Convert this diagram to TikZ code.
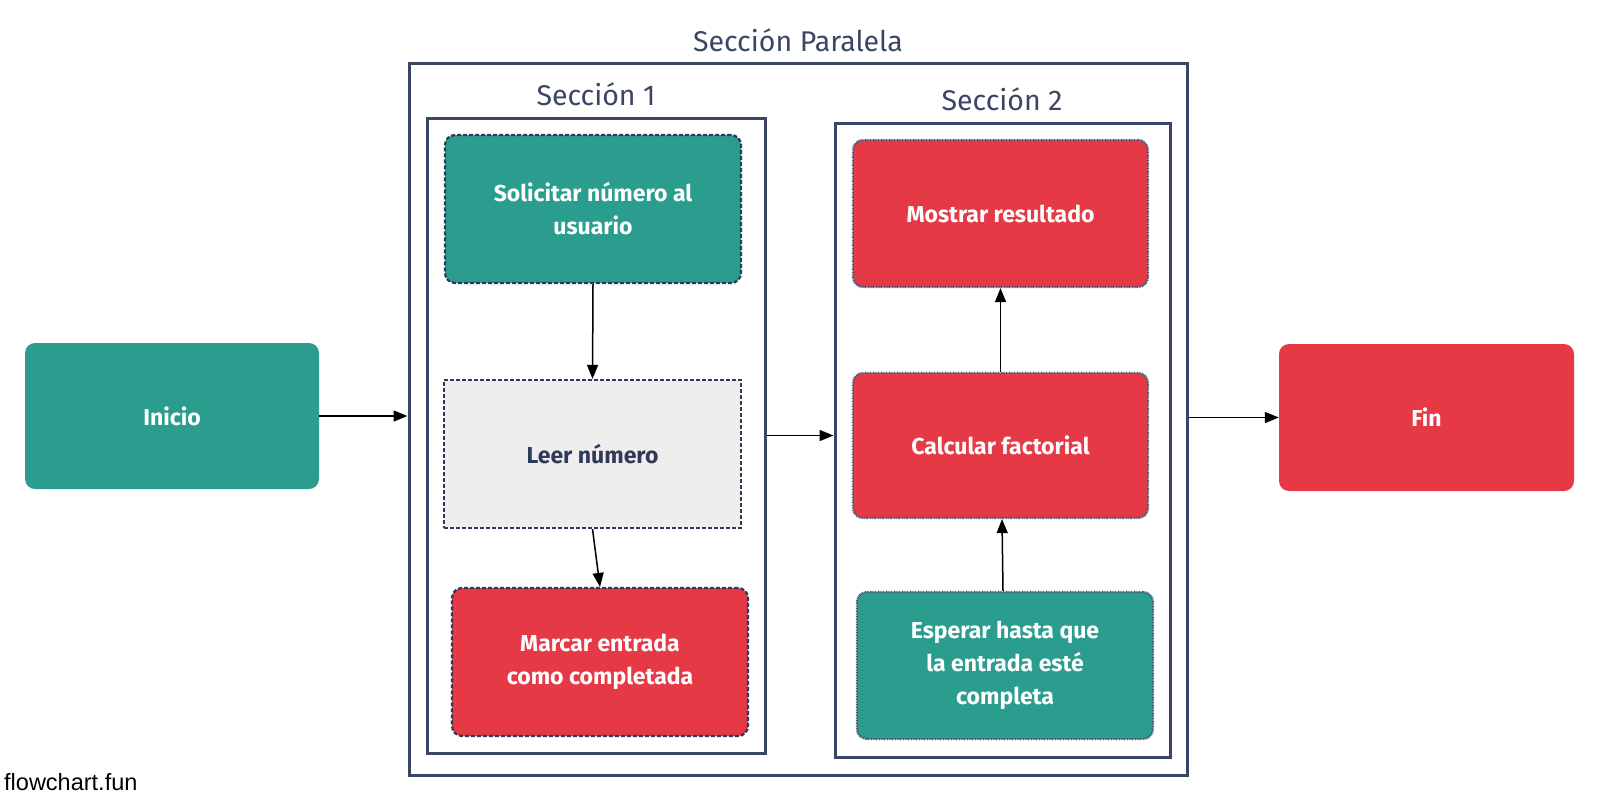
\documentclass[tikz,border=0pt]{standalone}
\usepackage{fontspec}
\setmainfont{Fira Sans}
\newfontfamily\markfont{Liberation Sans}
\usetikzlibrary{arrows.meta,calc}
\definecolor{teal}{HTML}{2A9D8F}
\definecolor{redc}{HTML}{E63946}
\definecolor{greyc}{HTML}{F0EDED}
\definecolor{darkc}{HTML}{2E3A59}
\definecolor{boxc}{HTML}{3A4664}
\tikzset{
  base/.style={align=center, inner sep=0pt, font=\fontsize{23}{33}\selectfont\bfseries, text=white},
  plainbox/.style={base, rounded corners=10pt},
  dashbox/.style={base, rounded corners=10pt, draw=darkc, line width=2.2pt, dash pattern=on 4pt off 2pt},
  dotbox/.style={base, rounded corners=10pt, draw=darkc!85, line width=2.2pt, dash pattern=on 0.9pt off 0.7pt},
  container/.style={draw=boxc, line width=3pt, inner sep=0pt},
  seclabel/.style={text=boxc, font=\fontsize{28.5}{32}\selectfont, inner sep=0pt},
  arr/.style={draw=black, line width=1.5pt, -{Triangle[length=14pt,width=11pt]}},
}
\begin{document}
\begin{tikzpicture}[x=1pt,y=-1pt]
\useasboundingbox (0,0) rectangle (1600,801);
% containers
\node[container, minimum width=778pt, minimum height=712pt] (par) at (798,419) {};
\node[container, minimum width=338pt, minimum height=635pt] (s1) at (596,435.5) {};
\node[container, minimum width=335pt, minimum height=634pt] (s2) at (1002.5,440) {};
\node[seclabel] (lpar) at (798,40) {Sección Paralela};
\node[seclabel] (ls1) at (596,94) {Sección 1};
\node[seclabel] (ls2) at (1002,99) {Sección 2};
% outer nodes
\node[plainbox, fill=teal, minimum width=294pt, minimum height=146pt] (inicio) at (172,416) {Inicio};
\node[plainbox, fill=redc, minimum width=295pt, minimum height=147pt] (fin) at (1426.5,417.5) {Fin};
% section 1
\node[dashbox, fill=teal, minimum width=296pt, minimum height=148pt] (sol) at (593,209) {Solicitar número al\\usuario};
\node[dashbox, fill=greyc, text=darkc, rounded corners=0pt, minimum width=297pt, minimum height=148pt] (leer) at (592.5,454) {Leer número};
\node[dashbox, fill=redc, minimum width=296pt, minimum height=148pt] (marcar) at (600,662) {Marcar entrada\\como completada};
% section 2
\node[dotbox, fill=redc, minimum width=295pt, minimum height=147pt] (mostrar) at (1000.5,213.5) {Mostrar resultado};
\node[dotbox, fill=redc, minimum width=295pt, minimum height=145pt] (calc) at (1000.5,445.5) {Calcular factorial};
\node[dotbox, fill=teal, minimum width=296pt, minimum height=147pt] (esperar) at (1005,665.5) {Esperar hasta que\\la entrada esté\\completa};
% arrows
\draw[arr] (inicio.east) -- (par.west |- inicio.east);
\draw[arr] (s1.east) -- (s2.west |- s1.east);
\draw[arr] (par.east |- fin.west) -- (fin.west);
\draw[arr] (sol.south) -- (leer.north);
\draw[arr] (leer.south) -- (marcar.north);
\draw[arr] (calc.north) -- (mostrar.south);
\draw[arr] ([xshift=-2pt]esperar.north) -- ([xshift=1.5pt]calc.south);
% watermark
\node[anchor=west, inner sep=0pt, font=\markfont\fontsize{23.5}{25}\selectfont] (mark) at (4,782) {flowchart.fun};
\end{tikzpicture}
\end{document}
